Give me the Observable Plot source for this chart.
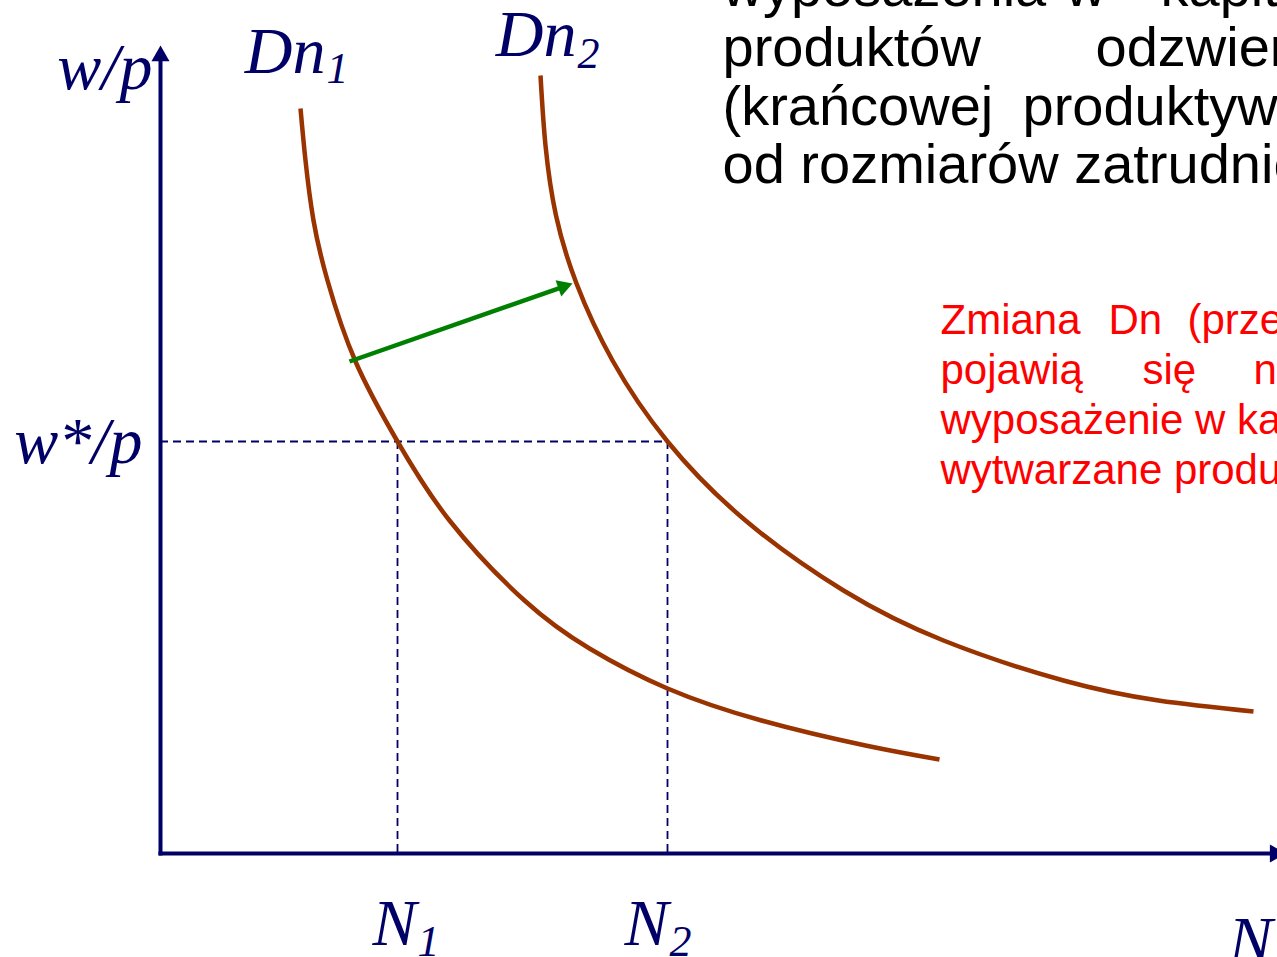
<!DOCTYPE html>
<html><head><meta charset="utf-8">
<script src="https://cdn.jsdelivr.net/npm/d3@7"></script>
<script src="https://cdn.jsdelivr.net/npm/@observablehq/plot@0.6"></script>
<style>html,body{margin:0;padding:0;background:#fff;overflow:hidden}#chart svg{display:block}</style>
</head><body><div id="chart"></div>
<script>
// ---- data (chart units: N along x, w/p along y) ----
const dn1N = [1.40, 1.45, 1.53, 1.67, 1.95, 2.37, 2.89, 3.64, 4.29, 5.07, 6.01, 7.05, 7.79];
const dn1W = [7.45, 6.93, 6.33, 5.73, 4.92, 4.12, 3.33, 2.53, 2.05, 1.65, 1.33, 1.08, 0.94];
const dn2N = [3.80, 3.85, 3.955, 4.16, 4.52, 5.07, 5.85, 6.83, 7.83, 9.03, 9.98, 10.93];
const dn2W = [7.78, 7.08, 6.38, 5.70, 4.93, 4.12, 3.33, 2.63, 2.13, 1.73, 1.53, 1.42];
const wStar = 4.12;
const nEq = [2.37, 5.07];
const shiftFrom = [1.89, 4.92];
const shiftTo = [4.12, 5.70];
const axisTipN = 11.25;
const axisTipW = 8.08;

const curveNames = ["Dn", "Dn"];
const curveSubs = ["1", "2"];
const nLabels = ["N", "N"];
const nSubs = ["1", "2"];
const yLabel = "w/p";
const yStarLabel = "w*/p";
const xLabel = "N";

const blackLines = [
  ["wyposażenia", "w", "kapitał"],
  ["produktów", "odzwierciedla"],
  ["(krańcowej", "produktywności)"],
  ["od rozmiarów zatrudnienia"]
];
const redLines = [
  ["Zmiana", "Dn", "(przesunięcie"],
  ["pojawią", "się", "nowe"],
  ["wyposażenie w kapitale"],
  ["wytwarzane produkty"]
];

// ---- styling / layout ----
const NAVY = "#000066", BROWN = "#993300", GREEN = "#008000", RED = "#ff0000";
const PX = 100; // pixels per chart unit on both axes
const serif = "'Liberation Serif', 'Times New Roman', serif";
const sans = "'Liberation Sans', Arial, sans-serif";

function headFor(tip, dir, r) {
  const len = Math.hypot(dir[0], dir[1]);
  const ux = dir[0] / len, uy = dir[1] / len;
  const half = Math.sqrt(r * r * Math.PI / (3 * Math.sqrt(3)));
  const off = 2 * half / PX;
  return {x: tip[0] - ux * off, y: tip[1] - uy * off, rotate: Math.atan2(ux, uy) * 180 / Math.PI};
}

const curves = [
  ...dn1N.map((n, i) => ({curve: "Dn1", n, w: dn1W[i]})),
  ...dn2N.map((n, i) => ({curve: "Dn2", n, w: dn2W[i]}))
];

const axisR = 6.7, arrowR = 6.4;
const yHead = headFor([0, axisTipW], [0, 1], axisR);
const xHead = headFor([axisTipN, 0], [1, 0], axisR);
const gHead = headFor(shiftTo, [shiftTo[0] - shiftFrom[0], shiftTo[1] - shiftFrom[1]], arrowR);

// word layouts (pixel offsets within the frame)
const blackX = [[562, 905, 1000], [562, 935], [562, 862], [562]];
const blackY = [5, 65, 124, 182];
const redX = [[780, 948, 1027], [780, 982, 1093], [780], [780]];
const redY = [333, 383, 433, 483];

const marks = [];
blackLines.forEach((ws, li) => ws.forEach((w, wi) => marks.push(
  Plot.text([w], {frameAnchor: "top-left", text: d => d, dx: blackX[li][wi], dy: blackY[li],
    textAnchor: "start", lineAnchor: "bottom", fontSize: 56, fontFamily: sans, fill: "#000"}))));
redLines.forEach((ws, li) => ws.forEach((w, wi) => marks.push(
  Plot.text([w], {frameAnchor: "top-left", text: d => d, dx: redX[li][wi], dy: redY[li],
    textAnchor: "start", lineAnchor: "bottom", fontSize: 42, fontFamily: sans, fill: RED}))));

const italic = {fontFamily: serif, fontStyle: "italic", fill: NAVY, lineAnchor: "bottom"};
const BIG = 66, SMALL = 44;
function label(x, y, t, dx, dy, anchor) {
  return Plot.text([t], {x: () => x, y: () => y, text: d => d, dx, dy, textAnchor: anchor, fontSize: BIG, ...italic});
}
function subLabel(x, y, t, s, dx, dy, subDy) {
  return [
    Plot.text([t], {x: () => x, y: () => y, text: d => d, dx, dy, textAnchor: "end", fontSize: BIG, ...italic}),
    Plot.text([s], {x: () => x, y: () => y, text: d => d, dx: dx + 1, dy: dy + subDy, textAnchor: "start", fontSize: SMALL, ...italic})
  ];
}

const chart = Plot.plot({
  width: 1277, height: 957,
  marginLeft: 160, marginRight: 0, marginTop: 0, marginBottom: 104,
  x: {domain: [0, 11.17], axis: null},
  y: {domain: [0, 8.53], axis: null},
  style: {background: "#fff", overflow: "hidden"},
  marks: [
    // dashed guides
    Plot.ruleY([wStar], {x1: 0, x2: nEq[1], stroke: NAVY, strokeWidth: 1.8, strokeDasharray: "8,5"}),
    Plot.ruleX(nEq, {y1: wStar, y2: 0, stroke: NAVY, strokeWidth: 1.8, strokeDasharray: "8,5"}),
    // demand curves
    Plot.line(curves, {x: "n", y: "w", z: "curve", curve: "natural", stroke: BROWN, strokeWidth: 4.5, strokeLinecap: "butt"}),
    // axes
    Plot.link([{x1: 0, y1: -0.02, x2: 0, y2: yHead.y}], {x1: "x1", y1: "y1", x2: "x2", y2: "y2", stroke: NAVY, strokeWidth: 4}),
    Plot.link([{x1: -0.02, y1: 0, x2: xHead.x, y2: 0}], {x1: "x1", y1: "y1", x2: "x2", y2: "y2", stroke: NAVY, strokeWidth: 4}),
    Plot.dot([yHead, xHead], {x: "x", y: "y", rotate: "rotate", symbol: "triangle", r: axisR, fill: NAVY, stroke: "none"}),
    // shift arrow
    Plot.link([{x1: shiftFrom[0], y1: shiftFrom[1], x2: gHead.x, y2: gHead.y}], {x1: "x1", y1: "y1", x2: "x2", y2: "y2", stroke: GREEN, strokeWidth: 4.5}),
    Plot.dot([gHead], {x: "x", y: "y", rotate: "rotate", symbol: "triangle", r: arrowR, fill: GREEN, stroke: "none"}),
    // axis labels
    label(0, axisTipW, yLabel, -8, 43, "end"),
    label(0, wStar, yStarLabel, -18, 21, "end"),
    label(axisTipN, 0, xLabel, -57, 108, "start"),
    ...subLabel(nEq[0], 0, nLabels[0], nSubs[0], 19, 91, 11),
    ...subLabel(nEq[1], 0, nLabels[1], nSubs[1], 1, 91, 11),
    ...subLabel(dn1N[0], dn1W[0], curveNames[0], curveSubs[0], 25, -36, 10),
    ...subLabel(dn2N[0], dn2W[0], curveNames[1], curveSubs[1], 36, -20, 12),
    ...marks
  ]
});

document.getElementById("chart").appendChild(chart);
</script>
</body></html>
